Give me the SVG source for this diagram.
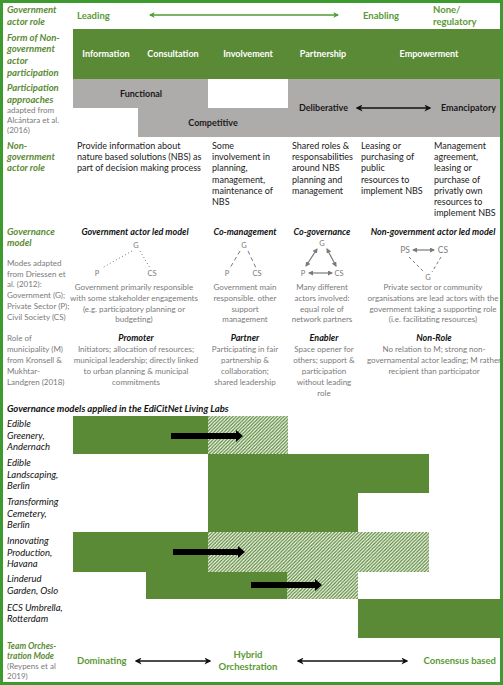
<svg xmlns="http://www.w3.org/2000/svg" width="503" height="685" viewBox="0 0 503 685">
<style>
text{font-family:Lato,"Liberation Sans",sans-serif}
.lbl{font-size:9.5px;font-weight:bold;font-style:italic;fill:#5b8b35}
.note{font-size:8px;fill:#7a7a7a}
.body{font-size:9px;fill:#1a1a1a}
.wb{font-size:9px;font-weight:bold;fill:#fff;text-anchor:middle}
.bk{font-size:9px;font-weight:bold;fill:#1a1a1a}
.ti{font-size:9px;font-weight:bold;font-style:italic;fill:#111;text-anchor:middle}
.desc{font-size:8px;fill:#7a7a7a;text-anchor:middle}
.gl{font-size:7.5px;fill:#7a7a7a;text-anchor:middle}
.lab{font-size:9.5px;font-style:italic;fill:#111}
.gb{font-size:9.5px;font-weight:bold;fill:#5b9a35}
.gfill{fill:#5b8a37}
.hatch{fill:url(#hatch)}
</style>
<defs>
<pattern id="hatch" patternUnits="userSpaceOnUse" width="3.4" height="3.4">
<rect width="3.4" height="3.4" fill="#fff"/>
<path d="M-0.85,0.85 L0.85,-0.85 M0,3.4 L3.4,0 M2.55,4.25 L4.25,2.55" stroke="#5b8a37" stroke-width="1.35"/>
</pattern>
<marker id="ga" viewBox="0 0 10 10" refX="8" refY="5" markerWidth="6" markerHeight="6" orient="auto-start-reverse" markerUnits="userSpaceOnUse">
<path d="M0,0 L10,5 L0,10 L3,5 z" fill="#4f9a35"/>
</marker>
<marker id="ba" viewBox="0 0 10 10" refX="8" refY="5" markerWidth="7" markerHeight="7" orient="auto-start-reverse" markerUnits="userSpaceOnUse">
<path d="M0,0 L10,5 L0,10 L3,5 z" fill="#111"/>
</marker>
<marker id="gra" viewBox="0 0 10 10" refX="8" refY="5" markerWidth="5" markerHeight="5" orient="auto-start-reverse" markerUnits="userSpaceOnUse">
<path d="M0,0 L10,5 L0,10 z" fill="#7a7a7a"/>
</marker>
</defs>
<rect width="503" height="685" fill="#fff"/>

<g id="header-row">
<text class="lbl" x="7" y="12.5">Government</text>
<text class="lbl" x="7" y="24.5">actor role</text>
<text class="gb" x="77" y="18.5">Leading</text>
<text class="gb" x="363" y="18.5">Enabling</text>
<text class="gb" x="433" y="12.5">None/</text>
<text class="gb" x="433" y="24.5">regulatory</text>
</g>

<g id="participation-forms">
<text class="lbl" x="7" y="40.5">Form of Non-</text>
<text class="lbl" x="7" y="52">government</text>
<text class="lbl" x="7" y="64">actor</text>
<text class="lbl" x="7" y="75.5">participation</text>
<rect class="gfill" x="73" y="29" width="427" height="50"/>
<text class="wb" x="106" y="57">Information</text>
<text class="wb" x="173" y="57">Consultation</text>
<text class="wb" x="248" y="57">Involvement</text>
<text class="wb" x="323" y="57">Partnership</text>
<text class="wb" x="429" y="57">Empowerment</text>
</g>

<g id="participation-approaches">
<text class="lbl" x="7" y="90.5">Participation</text>
<text class="lbl" x="7" y="102.5">approaches</text>
<text class="note" x="7" y="112.5">adapted from</text>
<text class="note" x="7" y="122.5">Alcántara et al.</text>
<text class="note" x="7" y="132.5">(2016)</text>
<polygon points="73,79 208,79 208,108 288,108 288,79 500,79 500,137 138,137 138,108 73,108" fill="#aeabab"/>
<text class="bk" x="141" y="97" text-anchor="middle">Functional</text>
<text class="bk" x="213" y="126" text-anchor="middle">Competitive</text>
<text class="bk" x="299" y="111">Deliberative</text>
<text class="bk" x="441" y="111">Emancipatory</text>
</g>

<g id="actor-role">
<text class="lbl" x="7" y="149">Non-</text>
<text class="lbl" x="7" y="160">government</text>
<text class="lbl" x="7" y="171">actor role</text>
<text class="body" x="77" y="149">Provide information about</text>
<text class="body" x="77" y="160.2">nature based solutions (NBS) as</text>
<text class="body" x="77" y="171.4">part of decision making process</text>
<text class="body" x="212" y="149">Some</text>
<text class="body" x="212" y="160.2">involvement in</text>
<text class="body" x="212" y="171.4">planning,</text>
<text class="body" x="212" y="182.6">management,</text>
<text class="body" x="212" y="193.8">maintenance of</text>
<text class="body" x="212" y="205">NBS</text>
<text class="body" x="292" y="149">Shared roles &amp;</text>
<text class="body" x="292" y="160.2">responsabilities</text>
<text class="body" x="292" y="171.4">around NBS</text>
<text class="body" x="292" y="182.6">planning and</text>
<text class="body" x="292" y="193.8">management</text>
<text class="body" x="361" y="149">Leasing or</text>
<text class="body" x="361" y="160.2">purchasing of</text>
<text class="body" x="361" y="171.4">public</text>
<text class="body" x="361" y="182.6">resources to</text>
<text class="body" x="361" y="193.8">implement NBS</text>
<text class="body" x="434" y="149">Management</text>
<text class="body" x="434" y="160.2">agreement,</text>
<text class="body" x="434" y="171.4">leasing or</text>
<text class="body" x="434" y="182.6">purchase of</text>
<text class="body" x="434" y="193.8">privatly own</text>
<text class="body" x="434" y="205">resources to</text>
<text class="body" x="434" y="216.2">implement NBS</text>
</g>

<g id="governance-model">
<text class="lbl" x="7" y="234.5">Governance</text>
<text class="lbl" x="7" y="245.5">model</text>
<text class="note" x="7" y="266">Modes adapted</text>
<text class="note" x="7" y="276.5">from Driessen et</text>
<text class="note" x="7" y="287">al. (2012):</text>
<text class="note" x="7" y="298">Government (G);</text>
<text class="note" x="7" y="309">Private Sector (P);</text>
<text class="note" x="7" y="320">Civil Society (CS)</text>
</g>

<g id="gov-led-model">
<text class="ti" x="135" y="234.5">Government actor led model</text>
<text class="gl" x="136" y="248">G</text>
<text class="gl" x="97" y="276">P</text>
<text class="gl" x="152" y="276">CS</text>
<text class="desc" x="134" y="290">Government primarily responsible</text>
<text class="desc" x="134" y="301">with some stakeholder engagements</text>
<text class="desc" x="134" y="311.5">(e.g. participatory planning or</text>
<text class="desc" x="134" y="322">budgeting)</text>
</g>
<g id="co-management">
<text class="ti" x="245" y="234.5">Co-management</text>
<text class="gl" x="244" y="248">G</text>
<text class="gl" x="227" y="276">P</text>
<text class="gl" x="257" y="276">CS</text>
<text class="desc" x="245" y="290">Government main</text>
<text class="desc" x="245" y="301">responsible. other</text>
<text class="desc" x="245" y="311.5">support</text>
<text class="desc" x="245" y="322">management</text>
</g>
<g id="co-governance">
<text class="ti" x="322" y="234.5">Co-governance</text>
<text class="gl" x="322" y="246">G</text>
<text class="gl" x="303" y="276">P</text>
<text class="gl" x="339" y="276">CS</text>
<text class="desc" x="322" y="290">Many different</text>
<text class="desc" x="322" y="301">actors involved:</text>
<text class="desc" x="322" y="311.5">equal role of</text>
<text class="desc" x="322" y="322">network partners</text>
</g>
<g id="non-gov-led-model">
<text class="ti" x="433" y="234.5">Non-government actor led model</text>
<text class="gl" x="405" y="253" style="font-size:8.5px">PS</text>
<text class="gl" x="443" y="253" style="font-size:8.5px">CS</text>
<text class="gl" x="428" y="280">G</text>
<text class="desc" x="433" y="290">Private sector or community</text>
<text class="desc" x="433" y="301">organisations are lead actors with the</text>
<text class="desc" x="433" y="311.5">government taking a supporting role</text>
<text class="desc" x="433" y="322">(i.e. facilitating resources)</text>
</g>

<g id="municipality-role">
<text class="note" x="7" y="341">Role of</text>
<text class="note" x="7" y="352">municipality (M)</text>
<text class="note" x="7" y="363">from Kronsell &amp;</text>
<text class="note" x="7" y="374">Mukhtar-</text>
<text class="note" x="7" y="384.5">Landgren (2018)</text>
</g>
<g id="promoter">
<text class="ti" x="136" y="341">Promoter</text>
<text class="desc" x="136" y="352">Initiators; allocation of resources;</text>
<text class="desc" x="136" y="363">municipal leadership; directly linked</text>
<text class="desc" x="136" y="374">to urban planning &amp; municipal</text>
<text class="desc" x="136" y="384.5">commitments</text>
</g>
<g id="partner">
<text class="ti" x="245" y="341">Partner</text>
<text class="desc" x="245" y="352">Participating in fair</text>
<text class="desc" x="245" y="363">partnership &amp;</text>
<text class="desc" x="245" y="374">collaboration;</text>
<text class="desc" x="245" y="384.5">shared leadership</text>
</g>
<g id="enabler">
<text class="ti" x="324" y="341">Enabler</text>
<text class="desc" x="324" y="352">Space opener for</text>
<text class="desc" x="324" y="363">others; support &amp;</text>
<text class="desc" x="324" y="374">participation</text>
<text class="desc" x="324" y="384.5">without leading</text>
<text class="desc" x="324" y="395.5">role</text>
</g>
<g id="non-role">
<text class="ti" x="434" y="341">Non-Role</text>
<text class="desc" x="434" y="352">No relation to M; strong non-</text>
<text class="desc" x="434" y="363">governamental actor leading; M rather</text>
<text class="desc" x="434" y="374">recipient than participator</text>
</g>

<g id="living-labs-title">
<text x="7" y="411.5" style="font-size:9.5px;font-weight:bold;font-style:italic;fill:#111">Governance models applied in the EdiCitNet Living Labs</text>
</g>

<g id="lab-andernach">
<text class="lab" x="7" y="427">Edible</text>
<text class="lab" x="7" y="438.5">Greenery,</text>
<text class="lab" x="7" y="450">Andernach</text>
<rect class="gfill" x="73" y="416" width="135" height="38"/>
<rect class="hatch" x="208" y="416" width="80" height="38"/>
</g>
<g id="lab-landscaping">
<text class="lab" x="7" y="466">Edible</text>
<text class="lab" x="7" y="477.5">Landscaping,</text>
<text class="lab" x="7" y="489">Berlin</text>
<rect class="gfill" x="208" y="454" width="221" height="39"/>
</g>
<g id="lab-cemetery">
<text class="lab" x="7" y="505">Transforming</text>
<text class="lab" x="7" y="516.5">Cemetery,</text>
<text class="lab" x="7" y="528">Berlin</text>
<rect class="gfill" x="208" y="493" width="150" height="39"/>
</g>
<g id="lab-havana">
<text class="lab" x="7" y="544">Innovating</text>
<text class="lab" x="7" y="556">Production,</text>
<text class="lab" x="7" y="567">Havana</text>
<rect class="gfill" x="73" y="532" width="135" height="40"/>
<rect class="hatch" x="208" y="532" width="221" height="40"/>
</g>
<g id="lab-oslo">
<text class="lab" x="7" y="582">Linderud</text>
<text class="lab" x="7" y="594">Garden, Oslo</text>
<rect class="gfill" x="146" y="572" width="141" height="27"/>
<rect class="hatch" x="287" y="572" width="71" height="27"/>
</g>
<g id="lab-rotterdam">
<text class="lab" x="7" y="611">ECS Umbrella,</text>
<text class="lab" x="7" y="622">Rotterdam</text>
<rect class="gfill" x="358" y="599" width="142" height="39"/>
</g>

<g id="orchestration">
<text class="lbl" x="7" y="649" style="font-size:8.5px">Team Orches-</text>
<text class="lbl" x="7" y="658.5" style="font-size:8.5px">tration Mode</text>
<text class="note" x="7" y="669">(Reypens et al</text>
<text class="note" x="7" y="678.5">2019)</text>
<text class="gb" x="77" y="664">Dominating</text>
<text class="gb" x="248" y="658" text-anchor="middle">Hybrid</text>
<text class="gb" x="248" y="670" text-anchor="middle">Orchestration</text>
<text class="gb" x="496" y="664" text-anchor="end">Consensus based</text>
</g>

<g id="connectors">
<line x1="150" y1="15" x2="338" y2="15" stroke="#4f9a35" stroke-width="1.4" marker-start="url(#ga)" marker-end="url(#ga)"/>
<line x1="357" y1="108" x2="430" y2="108" stroke="#111" stroke-width="1.3" marker-start="url(#ba)" marker-end="url(#ba)"/>
<line x1="136" y1="661" x2="210" y2="661" stroke="#111" stroke-width="1.3" marker-start="url(#ba)" marker-end="url(#ba)"/>
<line x1="298" y1="661" x2="407" y2="661" stroke="#111" stroke-width="1.3" marker-start="url(#ba)" marker-end="url(#ba)"/>
<line x1="132" y1="251" x2="102" y2="268" stroke="#7a7a7a" stroke-width="1" stroke-dasharray="1,2.5"/>
<line x1="140" y1="251" x2="150" y2="268" stroke="#7a7a7a" stroke-width="1" stroke-dasharray="1,2.5"/>
<line x1="240" y1="251" x2="230" y2="268" stroke="#7a7a7a" stroke-width="1" stroke-dasharray="4,3"/>
<line x1="248" y1="251" x2="256" y2="268" stroke="#7a7a7a" stroke-width="1" stroke-dasharray="4,3"/>
<line x1="317" y1="249" x2="306" y2="266" stroke="#7a7a7a" stroke-width="1.2" marker-start="url(#gra)" marker-end="url(#gra)"/>
<line x1="327" y1="249" x2="336" y2="266" stroke="#7a7a7a" stroke-width="1.2" marker-start="url(#gra)" marker-end="url(#gra)"/>
<line x1="309" y1="273" x2="332" y2="273" stroke="#7a7a7a" stroke-width="1.2" marker-start="url(#gra)" marker-end="url(#gra)"/>
<line x1="413" y1="250" x2="434" y2="250" stroke="#7a7a7a" stroke-width="1.2" marker-start="url(#gra)" marker-end="url(#gra)"/>
<line x1="409" y1="257" x2="424" y2="272" stroke="#7a7a7a" stroke-width="1" stroke-dasharray="3,2.5"/>
<line x1="441" y1="257" x2="432" y2="272" stroke="#7a7a7a" stroke-width="1" stroke-dasharray="3,2.5"/>
<polygon points="171,433 236,433 236,430 243,436 236,442 236,439 171,439" fill="#000"/>
<polygon points="173,549 238,549 238,546 245,552 238,558 238,555 173,555" fill="#000"/>
<polygon points="251,582 315,582 315,579 322,585 315,591 315,588 251,588" fill="#000"/>
</g>

<rect x="1.5" y="1.5" width="500" height="682" fill="none" stroke="#3c9a2e" stroke-width="3"/>
</svg>
